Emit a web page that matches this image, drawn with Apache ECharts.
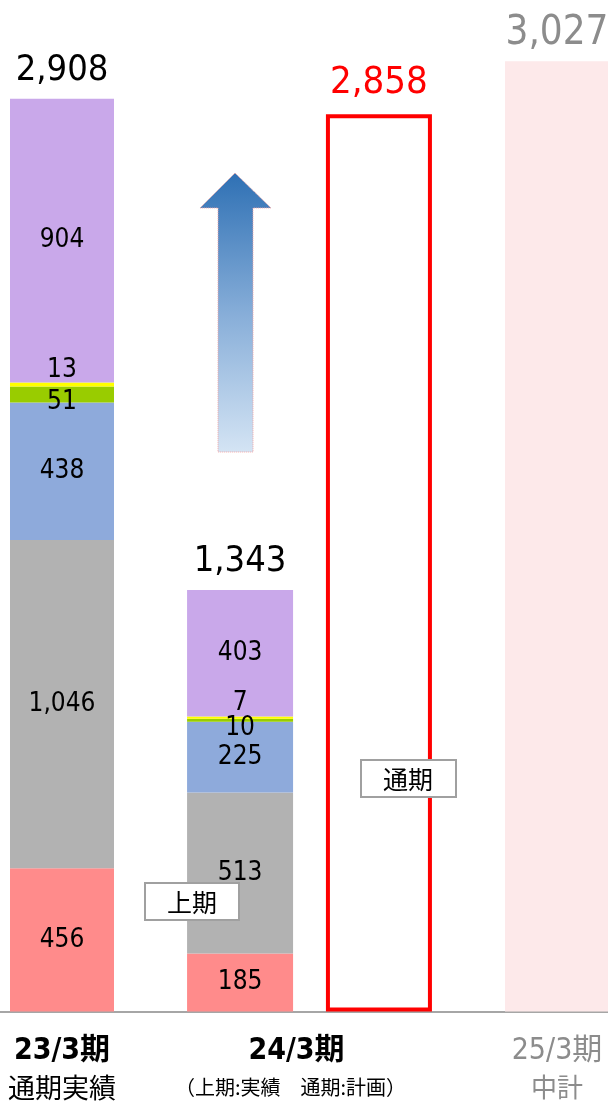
<!DOCTYPE html>
<html>
<head>
<meta charset="utf-8">
<script src="https://cdn.jsdelivr.net/npm/echarts@6/dist/echarts.min.js"></script>
<style>
html,body{margin:0;padding:0;background:#fff;}
#c{width:608px;height:1101px;}
</style>
</head>
<body>
<div id="c"></div>
<script>
// ---- data ----
const categories = ['23/3期', '24/3期', '25/3期'];
const subLabels = ['通期実績', '（上期:実績　通期:計画）', '中計'];
const fy23Full = [456, 1046, 438, 51, 13, 904];      // 23/3期 通期実績 (bottom -> top)
const fy24H1 = [185, 513, 225, 10, 7, 403];          // 24/3期 上期実績 (bottom -> top)
const stackTotals = [2908, 1343];                    // totals shown above stacks
const fy24Plan = [2858];                             // 24/3期 通期計画
const fy25Target = [3027];                           // 25/3期 中計

// ---- styles ----
const segColors = ['#FF8B8B', '#B2B2B2', '#8EAADB', '#99CC00', '#FFFF00', '#C9A8EA'];
const fy23Offsets = [null, null, null, [0, 8], [0, -14], null];
const h1Offsets = [null, null, null, [0, 8], [0, -14], null];
const NUM = '"DejaVu Sans Condensed", "Noto Sans CJK JP", sans-serif';
const JP = '"Noto Sans CJK JP", sans-serif';
const fmt = v => Number(v).toLocaleString('en-US');

function segLabel(off) {
  const l = {show: true, position: 'inside', color: '#000', fontSize: 26, fontFamily: NUM,
    formatter: p => fmt(p.value)};
  if (off) l.offset = off;
  return l;
}

const series = [];
fy23Full.forEach((v, i) => {
  series.push({type: 'bar', name: 'fy23_' + i, stack: 'fy23', xAxisIndex: 0, yAxisIndex: 0, barWidth: 104,
    data: [v, '-', '-'], itemStyle: {color: segColors[i]}, label: segLabel(fy23Offsets[i]), silent: true});
});
series.push({type: 'bar', name: 'fy23_total', stack: 'fy23', xAxisIndex: 0, yAxisIndex: 0, barWidth: 104,
  data: [0, '-', '-'], itemStyle: {color: 'rgba(0,0,0,0)'},
  label: {show: true, position: 'top', distance: 10, color: '#000', fontSize: 36, fontFamily: NUM,
    formatter: () => fmt(stackTotals[0])}, silent: true});
series.push({type: 'bar', name: 'fy25', stack: 'fy23', xAxisIndex: 0, yAxisIndex: 0, barWidth: 106,
  data: ['-', '-', fy25Target[0]], itemStyle: {color: '#FDE9EA'},
  label: {show: true, position: 'top', distance: 8, color: '#8C8C8C', fontSize: 40, fontFamily: NUM,
    formatter: p => fmt(p.value)}, silent: true});

fy24H1.forEach((v, i) => {
  series.push({type: 'bar', name: 'h1_' + i, stack: 'h1', xAxisIndex: 1, yAxisIndex: 0, barWidth: 106, barGap: '31%',
    data: ['-', v, '-'], itemStyle: {color: segColors[i]}, label: segLabel(h1Offsets[i]), silent: true});
});
series.push({type: 'bar', name: 'h1_total', stack: 'h1', xAxisIndex: 1, yAxisIndex: 0, barWidth: 106, barGap: '31%',
  data: ['-', 0, '-'], itemStyle: {color: 'rgba(0,0,0,0)'},
  label: {show: true, position: 'top', distance: 10, color: '#000', fontSize: 36, fontFamily: NUM,
    formatter: () => fmt(stackTotals[1])}, silent: true});
series.push({type: 'bar', name: 'plan', stack: 'plan', xAxisIndex: 1, yAxisIndex: 0, barWidth: 106, barGap: '31%',
  data: ['-', fy24Plan[0], '-'],
  itemStyle: {color: 'rgba(255,255,255,0)', borderColor: '#FF0000', borderWidth: 4},
  label: {show: true, position: 'top', distance: 12, color: '#FF0000', fontSize: 38, fontFamily: NUM,
    formatter: p => fmt(p.value)}, silent: true});

const rich = {
  m0: {fontSize: 30, fontWeight: 'bold', color: '#000', fontFamily: NUM, lineHeight: 36},
  s0: {fontSize: 27, color: '#000', fontFamily: JP, lineHeight: 36},
  m1: {fontSize: 30, fontWeight: 'bold', color: '#000', fontFamily: NUM, lineHeight: 36, padding: [0, 26, 0, 0]},
  s1: {fontSize: 20, color: '#000', fontFamily: JP, lineHeight: 36, padding: [0, 38, 0, 0]},
  m2: {fontSize: 30, color: '#8C8C8C', fontFamily: NUM, lineHeight: 36},
  s2: {fontSize: 26, color: '#8C8C8C', fontFamily: JP, lineHeight: 36}
};

const option = {
  animation: false,
  backgroundColor: '#fff',
  grid: [
    {left: 62, right: 51, top: 7, bottom: 89, containLabel: false},
    {left: 0, right: 0, top: 7, bottom: 89, containLabel: false}
  ],
  xAxis: [
    {type: 'category', data: categories, gridIndex: 0, boundaryGap: false,
      axisLine: {show: false}, axisTick: {show: false}, splitLine: {show: false},
      axisLabel: {interval: 0, margin: 22, rich: rich,
        formatter: (v, idx) => '{m' + idx + '|' + v + '}\n{s' + idx + '|' + subLabels[idx] + '}'}},
    {type: 'category', data: categories, gridIndex: 0, boundaryGap: false, show: false, position: 'bottom'},
    {type: 'category', data: categories, gridIndex: 1, position: 'bottom', z: 1,
      axisLine: {show: true, lineStyle: {color: '#A6A6A6', width: 2}},
      axisTick: {show: false}, axisLabel: {show: false}, splitLine: {show: false}}
  ],
  yAxis: [
    {type: 'value', gridIndex: 0, min: 0, max: 3200, show: false, splitLine: {show: false}},
    {type: 'value', gridIndex: 1, min: 0, max: 3200, show: false, splitLine: {show: false}}
  ],
  series: series,
  graphic: [
    {type: 'polygon', z: 100,
      shape: {points: [[235, 173], [271, 208], [253, 208], [253, 452], [218, 452], [218, 208], [200, 208]]},
      style: {
        fill: {type: 'linear', x: 0, y: 0, x2: 0, y2: 1,
          colorStops: [{offset: 0, color: '#2E70B4'}, {offset: 0.5, color: '#86ADD8'}, {offset: 1, color: '#D4E4F4'}]},
        stroke: '#F2A5A5', lineWidth: 1, lineDash: [1, 1]}},
    {type: 'rect', z: 100, shape: {x: 145, y: 883, width: 94, height: 37},
      style: {fill: '#fff', stroke: '#A0A0A0', lineWidth: 2}},
    {type: 'text', z: 101, style: {text: '上期', x: 192, y: 902, align: 'center', verticalAlign: 'middle',
      fontSize: 25, fontFamily: JP, fill: '#000'}},
    {type: 'rect', z: 100, shape: {x: 361, y: 760, width: 95, height: 37},
      style: {fill: '#fff', stroke: '#A0A0A0', lineWidth: 2}},
    {type: 'text', z: 101, style: {text: '通期', x: 408, y: 779, align: 'center', verticalAlign: 'middle',
      fontSize: 25, fontFamily: JP, fill: '#000'}}
  ]
};

const chart = echarts.init(document.getElementById('c'), null, {renderer: 'canvas'});
chart.setOption(option);
</script>
</body>
</html>
